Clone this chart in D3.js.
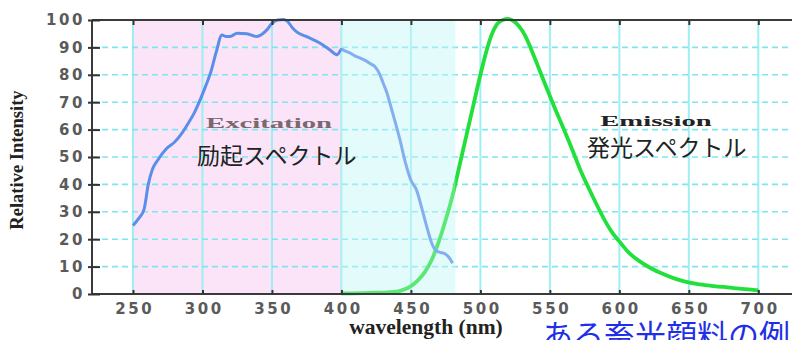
<!DOCTYPE html>
<html>
<head>
<meta charset="utf-8">
<script src="https://cdn.jsdelivr.net/npm/d3@7"></script>
<style>
  html, body { margin: 0; padding: 0; background: #fff; }
  svg { display: block; }
</style>
</head>
<body>
<svg id="chart" width="792" height="340"></svg>
<script>
// Excitation spectrum (wavelength nm, relative intensity)
const excitationNm = [250, 254, 258, 261, 264, 268, 274, 280, 285, 290, 294, 298, 302, 306, 310, 314, 317, 320, 325, 332, 339, 346, 350, 354, 358, 361, 365, 368, 375, 385, 392, 397, 400, 403, 406, 410, 414, 418, 421, 424, 427, 430, 433, 436, 439, 442, 446, 450, 454, 458, 462, 465, 468, 471, 474, 477, 480];
const excitationVal = [25, 27.5, 31, 40, 45.5, 49, 53, 55.5, 58.5, 62.5, 66, 70.5, 75.5, 81, 88.5, 94.5, 94, 94, 95.2, 95, 94, 96.2, 98.8, 100, 100.2, 99.6, 97, 95.6, 93.9, 91.4, 89, 87.3, 89.3, 88.6, 88, 86.8, 86, 85, 84, 83, 80.8, 77, 73, 67.6, 62.2, 56.5, 48, 41.5, 38, 31, 23.5, 18.5, 15.8, 15.2, 14.8, 13.6, 11.2];

// Emission spectrum (wavelength nm, relative intensity)
const emissionNm = [400, 420, 440, 446, 450, 455, 460, 465, 470, 475, 480, 485, 490, 495, 500, 504, 508, 512, 516, 520, 524, 528, 532, 536, 541, 547, 553, 560, 566, 572, 578, 584, 590, 595, 600, 607, 615, 623, 632, 640, 648, 658, 668, 678, 690, 700];
const emissionVal = [0.2, 0.4, 0.9, 1.8, 2.9, 5, 8, 12.5, 19, 27, 36, 47, 58, 69, 80, 88, 94.5, 98.5, 100, 100.4, 99.6, 97.6, 94.5, 90, 83.7, 76, 68.5, 60.2, 52.8, 45.2, 38.6, 32.3, 26.4, 22.3, 19.2, 15, 11.8, 9.3, 7.2, 5.6, 4.4, 3.5, 2.9, 2.4, 1.8, 1.3];

const xTicks = [250, 300, 350, 400, 450, 500, 550, 600, 650, 700];
const yTicks = [0, 10, 20, 30, 40, 50, 60, 70, 80, 90, 100];
const gridYTicks = [10, 20, 30, 40, 50, 60, 70, 80, 90];

// Shaded bands: excitation region and overlap region
const bandStart = [250, 400];
const bandEnd = [400, 482];
const bandColor = ["#fbe4f8", "#e3fbfb"];

const svg = d3.select("#chart");

const x = d3.scaleLinear().domain([220.5, 730]).range([92, 800]);
const y = d3.scaleLinear().domain([0, 100]).range([294, 20]);

// background bands
svg.append("g").selectAll("rect")
  .data(bandStart)
  .join("rect")
  .attr("x", (d) => x(d))
  .attr("y", y(100))
  .attr("width", (d, i) => x(bandEnd[i]) - x(d))
  .attr("height", y(0) - y(100))
  .attr("fill", (d, i) => bandColor[i]);

// vertical grid
svg.append("g").selectAll("line")
  .data(xTicks)
  .join("line")
  .attr("x1", (d) => x(d)).attr("x2", (d) => x(d))
  .attr("y1", y(100)).attr("y2", y(0))
  .attr("stroke", "#9eeef2")
  .attr("stroke-width", 2);

// horizontal dashed grid
svg.append("g").selectAll("line")
  .data(gridYTicks)
  .join("line")
  .attr("x1", x(220.5)).attr("x2", 792)
  .attr("y1", (d) => y(d)).attr("y2", (d) => y(d))
  .attr("stroke", "#7fe6ee")
  .attr("stroke-width", 1.6)
  .attr("stroke-dasharray", "6,4");

const line = d3.line()
  .x((d) => x(d[0]))
  .y((d) => y(d[1]))
  .curve(d3.curveMonotoneX);

const emissionPts = emissionNm.map((d, i) => [d, emissionVal[i]]);
const excitationPts = excitationNm.map((d, i) => [d, excitationVal[i]]);

svg.append("path")
  .datum(emissionPts)
  .attr("d", line)
  .attr("fill", "none")
  .attr("stroke", "#22e03c")
  .attr("stroke-width", 3.8)
  .attr("stroke-linejoin", "round");

svg.append("path")
  .datum(excitationPts)
  .attr("d", line)
  .attr("fill", "none")
  .attr("stroke", "#5b8ee8")
  .attr("stroke-width", 3)
  .attr("stroke-linejoin", "round");

// haze over the overlap band
svg.append("rect")
  .attr("x", x(400))
  .attr("y", y(100) + 1)
  .attr("width", x(482) - x(400))
  .attr("height", y(0) - y(100) - 2)
  .attr("fill", "#e6fcfc")
  .attr("opacity", 0.3);

// axes frame
const frame = svg.append("g").attr("stroke", "#3a3a3a").attr("stroke-width", 2);
frame.append("line").attr("x1", x(220.5)).attr("x2", 792).attr("y1", y(100)).attr("y2", y(100));
frame.append("line").attr("x1", x(220.5)).attr("x2", 792).attr("y1", y(0)).attr("y2", y(0));
frame.append("line").attr("x1", x(220.5)).attr("x2", x(220.5)).attr("y1", y(100)).attr("y2", y(0));

const tickFont = (sel) => sel
  .attr("font-family", "DejaVu Sans")
  .attr("font-weight", "bold")
  .attr("font-size", 15)
  .attr("letter-spacing", 2.6)
  .attr("fill", "#5a5a5a");

// bottom axis
const xAxis = d3.axisBottom(x).tickValues(xTicks).tickSize(-4).tickPadding(9);
const gx = svg.append("g").attr("transform", `translate(0,${y(0)})`).call(xAxis);
gx.select(".domain").remove();
gx.selectAll(".tick line").attr("stroke", "#333").attr("stroke-width", 2);
gx.selectAll(".tick text").call(tickFont).attr("dx", 1.3);

// top tick marks
const gt = svg.append("g").attr("transform", `translate(0,${y(100)})`)
  .call(d3.axisTop(x).tickValues(xTicks).tickSize(-5).tickFormat(""));
gt.select(".domain").remove();
gt.selectAll(".tick line").attr("stroke", "#333").attr("stroke-width", 2);

// left axis
const yAxis = d3.axisLeft(y).tickValues(yTicks).tickSize(4).tickPadding(3);
const gy = svg.append("g").attr("transform", `translate(${x(220.5)},0)`).call(yAxis);
gy.select(".domain").remove();
gy.selectAll(".tick line").attr("stroke", "#333").attr("stroke-width", 2).attr("x2", 8).attr("x1", -4);
gy.selectAll(".tick text").call(tickFont);

// axis titles
svg.append("text")
  .attr("transform", "translate(23,160) rotate(-90)")
  .attr("text-anchor", "middle")
  .attr("font-family", "Liberation Serif")
  .attr("font-weight", "bold")
  .attr("font-size", 18.5)
  .attr("fill", "#222")
  .text("Relative Intensity");

svg.append("text")
  .attr("x", 426)
  .attr("y", 334)
  .attr("text-anchor", "middle")
  .attr("font-family", "Liberation Serif")
  .attr("font-weight", "bold")
  .attr("font-size", 21.5)
  .attr("fill", "#222")
  .text("wavelength (nm)");

// series annotations
svg.append("text")
  .attr("transform", "translate(269,128) scale(2.05,1)")
  .attr("text-anchor", "middle")
  .attr("font-family", "Liberation Serif")
  .attr("font-weight", "bold")
  .attr("font-size", 14)
  .attr("fill", "#7a6870")
  .text("Excitation");

svg.append("text")
  .attr("x", 197)
  .attr("y", 164)
  .attr("font-family", "Noto Sans CJK JP")
  .attr("font-size", 23)
  .attr("fill", "#222")
  .text("励起スペクトル");

svg.append("text")
  .attr("transform", "translate(656,126) scale(2.05,1)")
  .attr("text-anchor", "middle")
  .attr("font-family", "Liberation Serif")
  .attr("font-weight", "bold")
  .attr("font-size", 14)
  .attr("fill", "#222")
  .text("Emission");

svg.append("text")
  .attr("x", 587)
  .attr("y", 156)
  .attr("font-family", "Noto Sans CJK JP")
  .attr("font-size", 23)
  .attr("fill", "#222")
  .text("発光スペクトル");

svg.append("text")
  .attr("x", 542)
  .attr("y", 347)
  .attr("font-family", "Noto Sans CJK JP")
  .attr("font-size", 31)
  .attr("fill", "#1f2fe8")
  .text("ある畜光顔料の例");
</script>
</body>
</html>
